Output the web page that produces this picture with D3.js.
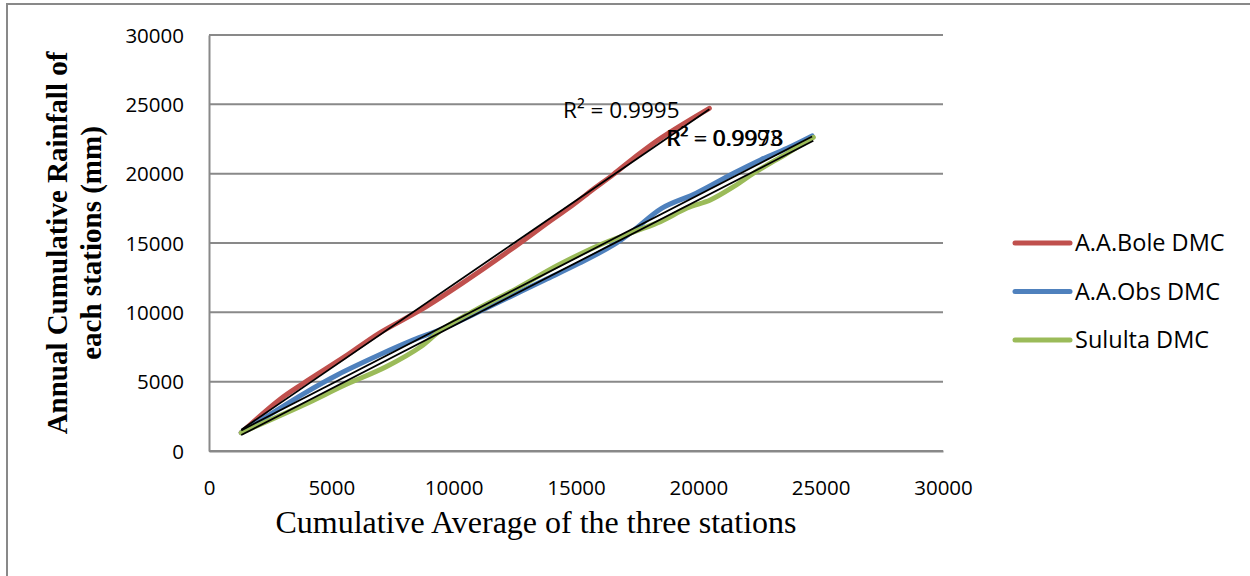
<!DOCTYPE html>
<html>
<head>
<meta charset="utf-8">
<script src="https://cdn.jsdelivr.net/npm/d3@7"></script>
<style>
  body { margin: 0; background: #fff; }
  svg { display: block; }
</style>
</head>
<body>
<svg width="1250" height="576"></svg>
<script>
// values
const boleX = [1320, 2870, 3860, 5550, 6950, 8650, 10340, 12310, 14000, 14840, 15690, 16530, 17380, 18500, 20450];
const boleY = [1320, 3680, 4880, 6800, 8490, 10170, 12090, 14490, 16660, 17700, 18850, 19950, 21150, 22600, 24710];

const obsX = [1320, 3860, 5260, 6950, 8360, 9490, 10900, 12310, 13720, 15120, 16530, 17380, 18500, 19910, 21440, 22540, 23630, 24650];
const obsY = [1320, 4120, 5500, 6920, 8010, 8780, 9930, 11130, 12330, 13530, 14860, 15940, 17500, 18590, 20030, 20990, 21830, 22720];

const sululX = [1320, 3860, 5550, 7240, 8650, 9490, 10900, 12590, 14280, 15970, 17380, 18450, 19540, 20490, 21440, 22260, 23630, 24700];
const sululY = [1320, 3320, 4760, 6080, 7520, 8730, 10170, 11730, 13410, 14860, 15820, 16540, 17530, 18100, 19060, 20030, 21470, 22620];

const seriesNames = ["A.A.Bole DMC", "A.A.Obs DMC", "Sululta DMC"];
const seriesColors = ["#C0504D", "#4F81BD", "#9BBB59"];
const r2Labels = ["R² = 0.9995", "R² = 0.9993", "R² = 0.9978"];

const xTicks = [0, 5000, 10000, 15000, 20000, 25000, 30000];
const yTicks = [0, 5000, 10000, 15000, 20000, 25000, 30000];

const series = [
  { name: seriesNames[0], color: seriesColors[0], pts: boleX.map((x, i) => [x, boleY[i]]) },
  { name: seriesNames[1], color: seriesColors[1], pts: obsX.map((x, i) => [x, obsY[i]]) },
  { name: seriesNames[2], color: seriesColors[2], pts: sululX.map((x, i) => [x, sululY[i]]) }
];

const svg = d3.select("svg");
const gray = "#898989";

// outer frame (right and bottom edges fall outside the picture)
svg.append("rect")
  .attr("x", 7).attr("y", 4)
  .attr("width", 1300).attr("height", 650)
  .attr("fill", "none").attr("stroke", gray).attr("stroke-width", 2);

const x = d3.scaleLinear().domain([0, 30000]).range([209, 943]);
const y = d3.scaleLinear().domain([0, 30000]).range([451, 35]);

// gridlines
svg.append("g")
  .selectAll("line")
  .data(yTicks)
  .enter().append("line")
  .attr("x1", x(0)).attr("x2", x(30000))
  .attr("y1", d => y(d)).attr("y2", d => y(d))
  .attr("stroke", gray).attr("stroke-width", 2);

// axes
const xAxis = svg.append("g")
  .attr("transform", `translate(0,${y(0)})`)
  .call(d3.axisBottom(x).tickValues(xTicks).tickSize(0).tickPadding(29).tickFormat(d3.format("d")));
const yAxis = svg.append("g")
  .attr("transform", `translate(${x(0)},0)`)
  .call(d3.axisLeft(y).tickValues(yTicks).tickSize(0).tickPadding(25).tickFormat(d3.format("d")));

[xAxis, yAxis].forEach(g => {
  g.select(".domain").attr("stroke", gray).attr("stroke-width", 2);
  g.selectAll("text")
    .attr("font-family", "'Open Sans', sans-serif")
    .attr("font-size", 20.5)
    .attr("fill", "#000");
});
yAxis.selectAll("text").attr("dy", "0.35em");

// series lines
const line = d3.line()
  .x(d => x(d[0]))
  .y(d => y(d[1]))
  .curve(d3.curveCatmullRom.alpha(0.5));

svg.append("g")
  .selectAll("path")
  .data(series)
  .enter().append("path")
  .attr("d", d => line(d.pts))
  .attr("fill", "none")
  .attr("stroke", d => d.color)
  .attr("stroke-width", 5)
  .attr("stroke-linecap", "round")
  .attr("stroke-linejoin", "round");

// linear trendlines
function fit(pts) {
  const mx = d3.mean(pts, p => p[0]), my = d3.mean(pts, p => p[1]);
  const b = d3.sum(pts, p => (p[0] - mx) * (p[1] - my)) / d3.sum(pts, p => (p[0] - mx) ** 2);
  const a = my - b * mx;
  const x0 = d3.min(pts, p => p[0]), x1 = d3.max(pts, p => p[0]);
  return [[x0, a + b * x0], [x1, a + b * x1]];
}

svg.append("g")
  .selectAll("line")
  .data(series)
  .enter().append("line")
  .each(function(d) {
    const f = fit(d.pts);
    d3.select(this)
      .attr("x1", x(f[0][0])).attr("y1", y(f[0][1]))
      .attr("x2", x(f[1][0])).attr("y2", y(f[1][1]));
  })
  .attr("stroke", "#000")
  .attr("stroke-width", 1.8);

// R² labels
const r2 = svg.append("g")
  .attr("font-family", "'Open Sans', sans-serif")
  .attr("font-size", 22.5)
  .attr("fill", "#000");
r2.append("text").attr("x", 563).attr("y", 118).text(r2Labels[0]);
r2.append("text").attr("x", 666).attr("y", 146).text(r2Labels[1]);
r2.append("text").attr("x", 667).attr("y", 146).text(r2Labels[2]);

// legend
const legend = svg.append("g")
  .selectAll("g")
  .data(series)
  .enter().append("g")
  .attr("transform", (d, i) => `translate(1015,${243 + i * 48.5})`);

legend.append("line")
  .attr("x1", 0).attr("x2", 55)
  .attr("stroke", d => d.color)
  .attr("stroke-width", 5)
  .attr("stroke-linecap", "round");

legend.append("text")
  .attr("x", 60)
  .attr("dy", "0.35em")
  .attr("font-family", "'Open Sans', sans-serif")
  .attr("font-size", 23.5)
  .text(d => d.name);

// axis titles
svg.append("text")
  .attr("x", 536).attr("y", 533)
  .attr("text-anchor", "middle")
  .attr("font-family", "'Liberation Serif', 'Times New Roman', serif")
  .attr("font-size", 32)
  .text("Cumulative Average of the three stations");

const yTitle = svg.append("text")
  .attr("transform", "translate(0,243) rotate(-90)")
  .attr("text-anchor", "middle")
  .attr("font-family", "'Liberation Serif', 'Times New Roman', serif")
  .attr("font-weight", "bold")
  .attr("font-size", 29);
yTitle.append("tspan").attr("x", 0).attr("y", 67).text("Annual Cumulative Rainfall of");
yTitle.append("tspan").attr("x", 0).attr("y", 101).text("each stations (mm)");
</script>
</body>
</html>
